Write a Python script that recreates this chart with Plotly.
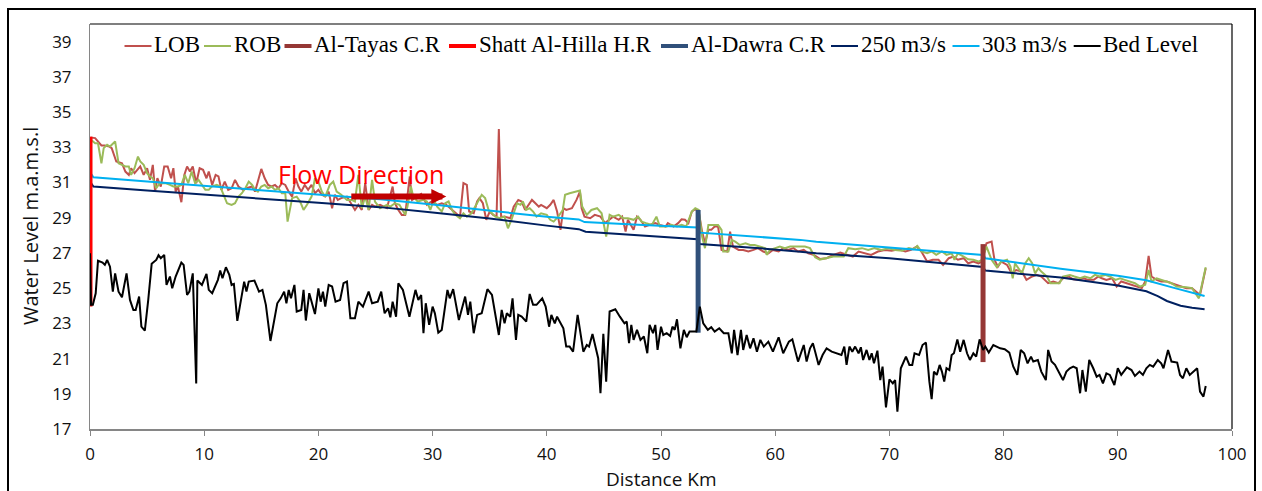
import plotly.graph_objects as go

# ---------------- data: water surface profile along the reach ----------------
lob_km = [0.0, 0.1, 0.45, 0.7, 1.0, 1.3, 1.7, 1.9, 2.3, 2.8, 3.1, 3.4, 3.6, 3.9, 4.4, 4.7, 5.0, 5.25, 5.5, 5.7,
          5.9, 6.2, 6.5, 6.8, 7.1, 7.3, 7.5, 7.7, 8.0, 8.26, 8.5, 8.75, 9.0, 9.3, 9.6, 9.9, 10.2, 10.4, 10.7, 11.0,
          11.25, 11.5, 11.8, 12.1, 12.4, 12.7, 13.0, 13.4, 13.7, 14.2, 14.45, 14.7, 15.0, 15.3, 15.6, 15.9, 16.2,
          16.5, 16.8, 17.1, 17.4, 17.7, 18.0, 18.25, 18.5, 18.8, 19.1, 19.4, 19.7, 20.0, 20.3, 20.6, 20.9, 21.2,
          21.45, 21.7, 22.0, 22.5, 22.9, 23.2, 23.5, 23.8, 24.1, 24.4, 24.7, 24.95, 25.4,
          26.0, 26.5, 26.7, 27.0, 27.3, 27.6, 28.0, 28.2, 28.6, 29.0, 29.5, 29.9, 30.4, 30.8, 31.2, 31.7, 32.1,
          32.4, 32.7, 33.0, 33.2, 33.6, 33.9, 34.1, 34.4, 34.7, 35.0, 35.3, 35.6, 35.8, 36.0, 36.3, 36.8, 37.1,
          37.5, 37.8, 38.1, 38.4, 38.7, 39.0, 39.3, 39.5, 40.0, 40.3, 40.6, 40.9, 41.2, 41.45, 41.7, 42.2, 42.6,
          42.9, 43.05, 43.3, 43.8, 44.2, 44.7, 45.1, 45.5, 45.8, 46.3, 46.6, 46.9, 47.1, 47.6, 47.9, 48.2, 48.6,
          49.0, 49.5, 49.9, 50.4, 50.6, 51.1, 51.5, 51.8, 52.1, 52.4, 52.7, 53.0,
          53.3, 53.6, 53.85, 54.15, 54.4, 54.7, 55.0, 55.3, 55.8, 56.05, 56.3, 56.8, 57.2, 57.65, 58.1, 58.5,
          58.95, 59.4, 59.8, 60.3, 60.7, 61.15, 61.6, 62.0, 62.5, 62.9, 63.35, 63.9,
          64.5, 65.1, 65.7, 66.3, 66.8, 67.3, 67.9, 68.4, 69.0, 69.6, 70.2, 70.8, 71.4, 71.9, 72.4, 72.8, 73.3,
          73.8, 74.3, 74.7, 75.2, 75.6, 76.0, 76.5, 76.9, 77.35, 77.8, 78.1, 78.5, 78.95, 79.2, 79.5, 79.8, 80.3,
          80.7, 81.1, 81.6, 82.0, 82.5, 82.9, 83.3, 83.9, 84.35, 84.8, 85.2, 85.7, 86.1, 86.5, 87.0, 87.4, 87.9,
          88.3, 88.6, 89.0, 89.5, 89.9, 90.3, 90.8, 91.2, 91.65, 92.1, 92.4, 92.7, 92.95, 93.4, 93.8, 94.3, 94.7,
          95.15, 95.6, 96.0, 96.5, 96.9, 97.2, 97.7]
lob_lvl = [33.45, 33.55, 33.52, 33.33, 33.1, 33.1, 33.04, 32.95, 32.19, 32.09, 31.62, 31.43, 31.81, 31.53, 31.91,
           31.43, 31.81, 31.15, 32.0, 30.48, 31.24, 30.77, 31.91, 31.91, 31.24, 31.81, 30.48, 30.77, 29.88, 31.43,
           31.91, 31.62, 31.91, 30.96, 31.81, 31.72, 31.24, 31.62, 30.86, 31.43, 31.34, 30.58, 31.05, 30.58, 30.67,
           31.15, 30.77, 30.58, 30.67, 30.77, 30.48, 31.05, 31.77, 31.24, 30.86, 30.77, 30.86, 30.67, 30.96, 30.86,
           30.48, 30.2, 31.24, 30.77, 30.48, 30.86, 30.58, 30.86, 30.39, 30.58, 30.3, 30.2, 30.48, 29.54, 30.3,
           30.01, 30.11, 30.2, 29.73, 29.44, 29.73, 29.44, 30.96, 29.44, 29.73, 29.63, 29.73,
           29.54, 30.77, 29.82, 29.44, 29.16, 29.16, 31.34, 30.01, 30.2, 30.35, 29.73, 29.92, 29.73, 29.82, 29.73,
           29.44, 29.25, 29.06, 30.96, 30.86, 29.35, 29.25, 29.92, 30.11, 29.82, 28.88, 29.35, 29.16, 29.06, 34.03,
           29.06, 29.06, 28.97, 29.63, 30.01, 29.92, 29.44, 29.73, 30.01, 29.82, 29.63, 29.73, 29.54, 29.73, 30.01,
           29.35, 28.31, 29.54, 29.44, 29.54, 30.01, 30.48, 29.54, 29.06, 28.97, 29.16, 29.06, 28.69, 28.88, 29.06,
           28.88, 29.06, 28.21, 28.88, 28.31, 29.06, 28.88, 28.5, 28.59, 28.69, 28.59, 28.5, 28.69, 28.5, 28.69,
           28.91, 28.88, 28.69, 29.35, 29.48,
           29.35, 28.21, 27.55, 28.31, 28.31, 28.5, 28.5, 27.17, 27.08, 28.21, 27.36, 27.17, 27.17, 27.08, 27.17,
           27.27, 27.08, 26.98, 27.17, 27.08, 27.27, 27.17, 27.27, 27.08, 27.17, 26.98, 26.9, 26.66,
           26.7, 26.89, 27.02, 26.89, 26.79, 27.08, 26.98, 26.89, 27.08, 27.17, 27.13, 27.21, 27.08, 27.17, 27.36,
           27.08, 26.51, 26.61, 26.61, 26.32, 26.7, 26.79, 26.61, 26.7, 26.41, 26.51, 26.41, 26.51, 27.55, 27.64,
           26.61, 26.22, 26.51, 26.32, 25.84, 26.03, 25.94, 25.47, 25.66, 25.75, 25.66, 25.28, 25.38, 25.28, 25.56,
           25.66, 25.5, 25.47, 25.56, 25.47, 25.47, 25.66, 25.56, 25.47, 25.56, 25.09, 25.38, 25.28, 25.19, 25.09,
           25.0, 25.38, 26.83, 25.66, 25.47, 25.38, 25.38, 25.28, 25.19, 25.09, 25.0, 25.0, 24.8, 24.61, 26.13]

rob_km = [0.0, 0.1, 0.45, 0.7, 1.0, 1.2, 1.5, 1.75, 2.2, 2.5, 2.8, 3.1, 3.4, 3.6, 3.9, 4.2, 4.4, 4.7, 5.0, 5.25,
          5.5, 5.8, 6.1, 6.6, 7.0, 7.3, 7.7, 8.0, 8.3, 8.6, 8.9, 9.2, 9.5, 9.8, 10.1, 10.4, 10.65, 11.1, 11.4, 11.7,
          12.0, 12.4, 12.7, 13.0, 13.3, 13.6, 13.9, 14.2, 14.45, 14.7, 15.0, 15.3, 15.6, 15.9, 16.2, 16.5, 16.8,
          17.1, 17.3, 17.7, 18.1, 18.4, 18.7, 19.0, 19.4, 19.7, 20.0, 20.3, 20.6, 21.0, 21.3, 21.6, 22.0, 22.5,
          22.9, 23.2, 23.5, 23.8, 24.1, 24.4, 24.7, 24.95, 25.4,
          26.0, 26.3, 26.7, 27.1, 27.6, 27.8, 28.1, 28.3, 28.7, 29.2, 29.5, 29.8, 30.1, 30.4, 30.8, 31.1, 31.4,
          31.7, 32.0, 32.4, 32.7, 33.0, 33.4, 33.7, 34.0, 34.3, 34.6, 34.9, 35.2, 35.5, 35.9, 36.3, 36.6, 36.9,
          37.4, 37.7, 37.9, 38.2, 38.5, 38.8, 39.1, 39.5, 40.0, 40.3, 40.6, 41.0, 41.4, 41.6, 42.0, 42.5, 42.9,
          43.1, 43.5, 43.9, 44.4, 44.8, 45.2, 45.5, 45.8, 46.3, 46.7, 47.1, 47.6, 48.0, 48.3, 48.7, 49.2, 49.6,
          49.9, 50.5, 50.9, 51.4, 51.8, 52.2, 52.7, 53.0,
          53.3, 53.6, 53.85, 54.15, 54.6, 55.0, 55.3, 55.45, 55.9, 56.2, 56.5, 56.9, 57.4, 57.8, 58.2, 58.7, 59.1,
          59.25, 59.55, 60.0, 60.4, 60.85, 61.3, 61.7, 62.2, 62.6, 63.05, 63.5, 63.9,
          64.5, 65.1, 66.0, 66.4, 67.0, 67.6, 68.15, 68.7, 69.3, 69.9, 70.5, 71.1, 71.7, 72.1, 72.45, 72.8, 73.3,
          73.7, 74.1, 74.6, 75.0, 75.45, 75.7, 76.0, 76.5, 76.9, 77.35, 77.8, 78.1, 78.5, 78.95, 79.4, 79.8, 80.3,
          80.6, 80.8, 81.0, 81.3, 81.6, 81.9, 82.2, 82.5, 82.75, 83.05, 83.3, 83.8, 84.1, 84.5, 84.9, 85.2, 85.8,
          86.2, 86.7, 87.1, 87.6, 88.0, 88.4, 88.9, 89.3, 89.8, 90.2, 90.6, 91.1, 91.5, 91.95, 92.4, 92.7, 92.95,
          93.4, 93.8, 94.3, 94.7, 95.15, 95.6, 96.0, 96.5, 96.9, 97.1, 97.7]
rob_lvl = [33.4, 33.42, 33.23, 33.23, 32.09, 32.95, 33.14, 33.04, 33.33, 32.09, 32.0, 31.91, 31.91, 31.43, 31.81,
           32.47, 32.19, 32.0, 31.53, 31.34, 31.24, 30.67, 30.96, 30.96, 30.86, 30.77, 30.77, 30.86, 31.43, 30.96,
           31.62, 30.96, 31.15, 30.86, 30.58, 30.58, 30.77, 30.86, 30.77, 30.3, 29.82, 29.73, 29.82, 30.2, 30.39,
           30.67, 31.05, 30.86, 30.58, 30.48, 30.77, 30.86, 30.67, 30.77, 30.58, 30.67, 30.39, 30.39, 28.78, 30.11,
           30.2, 29.92, 29.44, 29.73, 30.2, 31.24, 31.05, 30.48, 30.2, 30.86, 31.05, 30.48, 30.3, 30.01, 30.01,
           29.92, 31.43, 29.54, 30.2, 29.44, 31.15, 29.92, 29.54,
           29.73, 29.63, 29.82, 29.73, 29.16, 29.63, 30.77, 30.2, 29.92, 30.01, 29.92, 29.44, 30.01, 29.63, 29.35,
           29.82, 29.92, 29.44, 29.16, 28.97, 29.25, 29.06, 29.25, 29.63, 29.92, 30.3, 30.11, 29.44, 29.25, 29.06,
           28.97, 29.06, 28.4, 28.88, 29.82, 29.73, 29.92, 29.44, 29.54, 29.35, 29.06, 29.25, 29.16, 28.88, 28.78,
           29.06, 29.44, 30.3, 30.39, 30.48, 30.54, 29.63, 29.16, 29.44, 29.54, 29.25, 27.93, 29.16, 29.06, 29.16,
           28.97, 28.97, 28.88, 29.06, 28.78, 28.69, 28.59, 29.06, 28.5, 28.5, 28.59, 28.5, 28.59, 28.5, 29.35,
           29.54,
           29.44, 27.93, 27.27, 28.59, 28.59, 28.59, 28.31, 27.08, 27.08, 27.74, 27.64, 27.45, 27.55, 27.45, 27.45,
           27.36, 27.27, 26.89, 27.17, 27.27, 27.36, 27.27, 27.36, 27.36, 27.36, 27.36, 27.27, 26.75, 26.62,
           26.7, 26.79, 26.79, 27.27, 27.21, 27.27, 27.17, 27.27, 27.17, 27.27, 27.17, 27.13, 27.27, 27.21, 27.4,
           27.08, 26.98, 27.08, 26.89, 27.08, 26.89, 26.98, 26.61, 26.98, 26.79, 26.64, 26.61, 26.51, 26.61, 27.36,
           26.61, 26.19, 26.51, 26.61, 26.22, 25.56, 26.41, 26.13, 25.84, 26.41, 26.7, 26.41, 25.84, 26.13, 25.94,
           25.66, 25.28, 25.28, 25.28, 25.66, 25.75, 25.66, 25.56, 25.66, 25.56, 25.75, 25.66, 25.75, 25.66, 25.47,
           25.56, 25.47, 25.38, 25.28, 25.09, 25.19, 26.03, 25.38, 25.56, 25.47, 25.38, 25.28, 25.09, 25.09, 25.05,
           25.0, 24.61, 24.42, 26.19]

q250_km = [0.0, 0.3, 5.0, 10.0, 15.0, 20.0, 25.4, 30.0, 35.0, 40.0, 42.8, 43.4, 48.0, 53.2, 53.4, 58.0, 62.2,
           63.6, 70.0, 78.2, 78.4, 85.0, 90.0, 92.5, 93.5, 94.3, 95.5, 96.5, 97.6]
q250_lvl = [31.05, 30.77, 30.55, 30.3, 30.08, 29.85, 29.6, 29.3, 28.95, 28.55, 28.35, 28.2, 28.0, 27.78, 27.5,
            27.3, 27.07, 26.98, 26.7, 26.2, 26.0, 25.6, 25.15, 24.82, 24.55, 24.27, 24.0, 23.88, 23.8]

q303_km = [0.0, 0.3, 5.0, 10.0, 15.0, 20.0, 25.4, 30.0, 35.0, 40.0, 42.8, 43.3, 48.0, 53.2, 53.4, 58.0, 62.2,
           63.6, 70.0, 78.2, 78.4, 85.0, 90.0, 92.5, 95.0, 97.6]
q303_lvl = [31.58, 31.3, 31.05, 30.8, 30.55, 30.3, 30.05, 29.75, 29.4, 29.05, 28.9, 28.75, 28.6, 28.45, 28.15,
            27.95, 27.74, 27.64, 27.3, 26.88, 26.7, 26.1, 25.7, 25.45, 25.0, 24.55]

bed_km = [0.0, 0.09, 0.25, 0.5, 0.7, 1.1, 1.3, 1.5, 1.75, 2.0, 2.2, 2.5, 2.8, 3.2, 3.5, 3.8, 4.0, 4.3, 4.5, 4.8,
          5.1, 5.4, 5.8, 6.0, 6.2, 6.5, 6.7, 7.0, 7.2, 7.5, 8.0, 8.2, 8.5, 8.7, 9.0, 9.3, 9.4, 9.8, 10.2, 10.4,
          10.7, 11.0, 11.2, 11.4, 11.6, 11.9, 12.2, 12.4, 12.6, 12.9, 13.2, 13.5, 13.7, 13.9, 14.4, 14.8, 15.1,
          15.4, 15.8, 16.1, 16.4, 16.7, 17.0, 17.2, 17.4, 17.6, 17.9, 18.1, 18.5, 18.7, 18.9, 19.2, 19.5, 19.7,
          20.0, 20.2, 20.4, 20.6, 20.9, 21.2, 21.5, 21.9, 22.2, 22.5, 22.8, 23.2, 23.5, 23.9, 24.4, 24.7, 25.2,
          25.5, 25.8, 26.1, 26.3, 26.5, 26.8, 27.0,
          27.4, 27.97, 28.5, 28.75, 29.0, 29.2, 29.4, 29.7, 30.0, 30.2, 30.5, 30.8, 31.3, 31.5, 31.8, 32.3, 32.85,
          33.1, 33.3, 33.6, 33.9, 34.3, 34.8, 35.2, 35.8, 36.05, 36.3, 36.5, 36.8, 37.0, 37.3, 37.5, 37.8, 38.2,
          38.5, 38.8, 39.1, 39.6, 39.9, 40.2, 40.4, 40.7, 40.9, 41.45, 41.7, 42.0, 42.3, 42.7, 43.2, 43.5, 43.7,
          44.0, 44.5, 44.7, 44.95, 45.2, 45.5, 46.0, 46.4, 46.8, 47.0, 47.2, 47.4, 47.6, 47.9, 48.2, 48.5, 48.8,
          49.0, 49.3, 49.5, 49.7, 50.0, 50.2, 50.5, 50.8, 51.0, 51.2, 51.4, 51.7, 52.0, 52.25, 52.5, 53.1, 53.4,
          53.7, 54.1, 54.4, 54.7, 55.1, 55.5, 55.9, 56.2, 56.4, 56.7, 57.0, 57.2, 57.5, 57.8, 58.1, 58.4, 58.7,
          59.0, 59.4, 59.8, 60.3, 60.7, 61.2, 61.5, 62.0,
          62.5, 62.75, 63.05, 63.3, 63.5, 63.8, 64.15, 64.5, 64.95, 65.4, 65.8, 66.05, 66.25, 66.5, 66.75, 67.0,
          67.3, 67.5, 67.7, 68.0, 68.25, 68.45, 68.65, 68.95, 69.2, 69.4, 69.7, 70.0, 70.3, 70.5, 70.7, 71.0,
          71.45, 71.75, 72.0, 72.2, 72.6, 72.9, 73.2, 73.5, 73.7, 73.9, 74.15, 74.4, 74.6, 74.8, 75.0, 75.25,
          75.45, 75.65, 75.95, 76.2, 76.5, 76.8, 77.05, 77.35, 77.6, 77.9, 78.2, 78.4, 78.7, 79.1, 79.7, 80.1,
          80.5, 80.85, 81.2, 81.5, 81.8, 82.1, 82.4, 82.6, 83.0, 83.3, 83.7, 83.9, 84.2, 84.5, 84.8, 85.2, 85.5,
          85.8, 86.1, 86.4, 86.7, 86.9, 87.2, 87.5, 87.85, 88.15, 88.4, 88.7, 89.0, 89.3, 89.7, 90.0, 90.3, 90.8,
          91.2, 91.5, 91.9, 92.2, 92.5, 92.8, 93.1, 93.5, 93.8, 94.0, 94.4, 94.7, 95.2, 95.45, 95.7, 96.0, 96.3,
          96.6, 96.95, 97.2, 97.5, 97.7]
bed_lvl = [26.98, 24.05, 24.05, 24.71, 26.56, 26.45, 26.32, 26.6, 26.22, 24.8, 25.84, 24.8, 24.48, 25.84, 24.33,
           23.76, 23.76, 24.52, 22.81, 22.59, 24.33, 26.38, 26.6, 26.87, 26.7, 26.89, 25.18, 25.66, 24.99, 25.66,
           26.45, 26.32, 24.61, 24.8, 25.84, 19.59, 25.43, 25.18, 25.81, 24.9, 24.71, 25.18, 25.47, 26.0, 25.56,
           26.19, 25.75, 25.18, 25.24, 23.14, 24.23, 25.37, 24.8, 25.37, 25.43, 24.8, 24.9, 24.05, 22.0, 23.0,
           24.14, 24.42, 24.8, 24.14, 24.9, 24.42, 25.18, 23.67, 23.76, 24.9, 23.16, 24.71, 24.05, 23.53, 24.99,
           24.23, 24.8, 23.95, 25.18, 25.09, 24.23, 24.33, 25.28, 25.37, 23.29, 23.29, 24.23, 23.95, 24.8, 24.14,
           24.23, 24.8, 23.57, 23.86, 23.34, 24.23, 23.38, 25.28,
           24.9, 23.38, 24.9, 24.33, 24.61, 22.44, 24.14, 22.91, 23.95, 23.57, 22.47, 22.63, 24.9, 24.42, 24.94,
           23.19, 24.52, 23.48, 24.23, 22.44, 23.48, 23.57, 24.94, 24.61, 22.34, 23.76, 23.0, 23.57, 23.38, 24.42,
           22.06, 23.48, 23.38, 23.1, 24.67, 24.05, 24.05, 24.42, 23.95, 22.81, 23.48, 23.0, 23.38, 22.72, 21.68,
           21.68, 21.39, 23.48, 21.39, 21.77, 21.68, 22.4, 21.02, 19.03, 22.4, 19.69, 23.67, 23.8, 23.38, 23.0,
           23.1, 21.87, 22.91, 22.06, 22.63, 22.06, 22.25, 21.3, 22.91, 22.44, 22.91, 21.49, 22.81, 22.34, 22.44,
           22.28, 22.81, 22.63, 23.23, 21.58, 22.63, 22.21, 22.53, 22.53, 23.95, 23.0, 22.63, 22.78, 22.53, 22.72,
           22.44, 22.44, 21.3, 22.63, 21.2, 22.63, 21.49, 22.34, 21.58, 22.15, 21.39, 22.06, 21.68, 21.96, 21.39,
           22.21, 21.3, 21.96, 22.09, 20.83,
           21.77, 20.83, 21.58, 21.87, 21.39, 20.64, 21.2, 21.58, 21.39, 21.3, 21.2, 21.68, 20.64, 21.68, 21.39,
           21.68, 21.3, 21.64, 20.92, 21.49, 20.92, 21.3, 20.73, 21.45, 19.78, 20.54, 18.23, 19.82, 19.59, 19.78,
           17.98, 20.45, 21.11, 20.64, 20.64, 21.3, 21.2, 21.77, 21.91, 19.69, 18.69, 20.26, 20.07, 20.64, 20.26,
           19.69, 20.45, 20.35, 21.2, 21.3, 22.09, 21.39, 22.06, 21.3, 20.92, 21.3, 21.11, 22.09, 21.49, 21.68,
           21.34, 21.77, 21.58, 21.53, 21.34, 20.54, 20.07, 21.49, 21.3, 20.73, 21.11, 20.83, 20.92, 20.26, 19.78,
           21.49, 20.83, 20.64, 20.26, 19.78, 20.26, 20.45, 20.54, 20.45, 19.03, 20.35, 19.12, 20.92, 20.45, 19.97,
           20.07, 19.59, 20.16, 20.07, 19.5, 20.45, 20.07, 20.5, 20.35, 20.01, 20.26, 20.07, 20.45, 20.64, 20.54,
           20.92, 20.73, 20.45, 21.49, 20.83, 20.77, 20.07, 19.88, 20.45, 20.07, 20.26, 20.45, 19.12, 18.84, 19.44]

# hydraulic structures: location and vertical extent
shatt_km = [0.0, 0.0]
shatt_lvl = [23.95, 33.6]
dawra_km = [53.25, 53.25]
dawra_lvl = [22.47, 29.44]
tayas_km = [78.2, 78.2]
tayas_lvl = [20.8, 27.5]

x_ticks = list(range(0, 101, 10))
y_ticks = list(range(17, 40, 2))

# ---------------- styling ----------------
C_LOB, C_ROB = "#C0504D", "#9BBB59"
C_TAYAS, C_SHATT, C_DAWRA = "#953735", "#FF0000", "#30507A"
C_250, C_303, C_BED = "#002060", "#00B0F0", "#000000"
TICK_FONT = dict(family="Open Sans", size=17, color="#111111")

# plot-area geometry in pixels
W, H = 1262, 491
L, R, T, B = 90, 30, 24, 62
PW, PH = W - L - R, H - T - B


def px_to_paper_x(px):
    return (px - L) / PW


def px_to_paper_y(py):
    return (H - B - py) / PH


fig = go.Figure()


def add_line(x, y, color, width):
    fig.add_trace(go.Scatter(x=x, y=y, mode="lines", line=dict(color=color, width=width),
                             hoverinfo="skip", showlegend=False))


add_line(lob_km, lob_lvl, C_LOB, 2)
add_line(rob_km, rob_lvl, C_ROB, 2)
add_line(q250_km, q250_lvl, C_250, 2)
add_line(q303_km, q303_lvl, C_303, 2)
add_line(tayas_km, tayas_lvl, C_TAYAS, 5)
add_line(shatt_km, shatt_lvl, C_SHATT, 5)
add_line(dawra_km, dawra_lvl, C_DAWRA, 5)
add_line(bed_km, bed_lvl, C_BED, 2)

shapes = []
annotations = []

# plot-area frame (top and right edges) and outer chart border
shapes.append(dict(type="line", xref="paper", yref="paper", x0=0, x1=1, y0=1, y1=1,
                   line=dict(color="#000000", width=1.2)))
shapes.append(dict(type="line", xref="paper", yref="paper", x0=1, x1=1, y0=0, y1=1,
                   line=dict(color="#000000", width=1.2)))
shapes.append(dict(type="rect", xref="paper", yref="paper",
                   x0=px_to_paper_x(8), x1=px_to_paper_x(1255),
                   y0=px_to_paper_y(500), y1=px_to_paper_y(9),
                   line=dict(color="#000000", width=2)))

# legend row drawn along the top of the plot area
legend_items = [
    ("LOB", C_LOB, 2, 124.5),
    ("ROB", C_ROB, 2, 204),
    ("Al-Tayas C.R", C_TAYAS, 4, 284.5),
    ("Shatt Al-Hilla H.R", C_SHATT, 4, 449),
    ("Al-Dawra C.R", C_DAWRA, 4, 661),
    ("250 m3/s", C_250, 2, 831),
    ("303 m3/s", C_303, 2, 952.5),
    ("Bed Level", C_BED, 2, 1073.7),
]
leg_y = px_to_paper_y(46)
for name, color, lw, x0 in legend_items:
    shapes.append(dict(type="line", xref="paper", yref="paper",
                       x0=px_to_paper_x(x0), x1=px_to_paper_x(x0 + 27), y0=leg_y, y1=leg_y,
                       line=dict(color=color, width=lw)))
    annotations.append(dict(text=name, xref="paper", yref="paper",
                            x=px_to_paper_x(x0 + 27.5), y=px_to_paper_y(45),
                            xanchor="left", yanchor="middle", showarrow=False,
                            font=dict(family="Liberation Serif", size=23, color="#000000")))

# flow direction label and arrow
annotations.append(dict(text="Flow Direction", x=16.25, y=31.5, xref="x", yref="y",
                        xanchor="left", yanchor="middle", showarrow=False,
                        font=dict(family="Open Sans", size=25, color="#FF0000")))
annotations.append(dict(text="", x=31.2, y=30.2, ax=22.75, ay=30.2, xref="x", yref="y",
                        axref="x", ayref="y", showarrow=True, arrowhead=2,
                        arrowwidth=6, arrowsize=0.5, arrowcolor="#C00000"))

# axis titles
annotations.append(dict(text="Water Level m.a.m.s.l", xref="paper", yref="paper",
                        x=px_to_paper_x(30), y=px_to_paper_y(226), textangle=-90,
                        xanchor="center", yanchor="middle", showarrow=False,
                        font=dict(family="Open Sans", size=20, color="#111111")))
annotations.append(dict(text="Distance Km", xref="paper", yref="paper",
                        x=0.5, y=px_to_paper_y(479), xanchor="center", yanchor="middle",
                        showarrow=False, font=dict(family="Open Sans", size=19, color="#111111")))

fig.update_layout(
    width=W, height=H,
    margin=dict(l=L, r=R, t=T, b=B, autoexpand=False),
    paper_bgcolor="white", plot_bgcolor="white",
    showlegend=False,
    shapes=shapes, annotations=annotations,
    xaxis=dict(range=[0, 100], tickvals=x_ticks, ticks="outside", ticklen=5, tickwidth=1,
               tickcolor="#868686", showline=True, linecolor="#868686", linewidth=1.6,
               showgrid=False, zeroline=False, tickfont=TICK_FONT, ticklabelstandoff=4),
    yaxis=dict(range=[17, 40], tickvals=y_ticks, ticks="", showline=True, linecolor="#868686",
               linewidth=1, showgrid=False, zeroline=False, tickfont=TICK_FONT,
               ticklabelstandoff=14),
)

fig.write_html("out.html")
